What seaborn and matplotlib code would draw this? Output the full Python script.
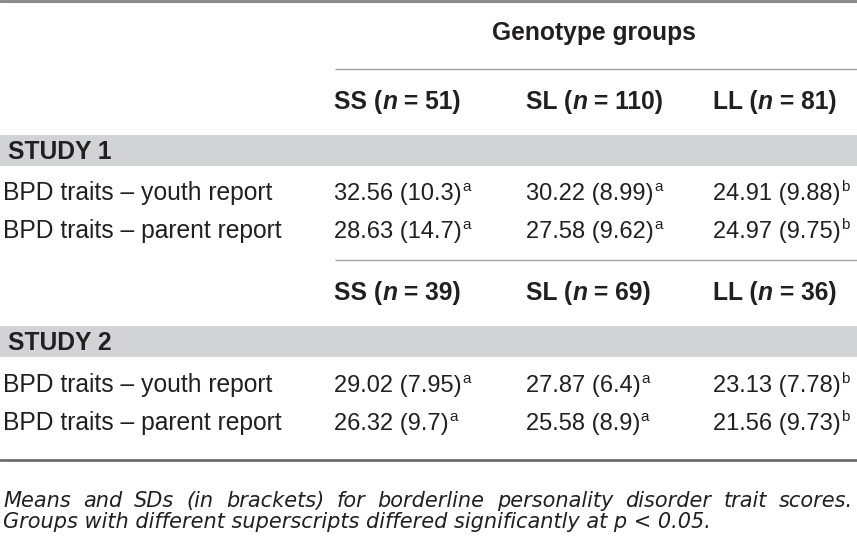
import matplotlib
matplotlib.use("Agg")
import matplotlib.pyplot as plt
import seaborn as sns

# table content
title = "Genotype groups"
groups = ["SS", "SL", "LL"]
n_study1 = [51, 110, 81]
n_study2 = [39, 69, 36]
studies = ["STUDY 1", "STUDY 2"]
row_labels = ["BPD traits – youth report", "BPD traits – parent report"]
study1_means = [[32.56, 30.22, 24.91], [28.63, 27.58, 24.97]]
study1_sds = [[10.3, 8.99, 9.88], [14.7, 9.62, 9.75]]
study2_means = [[29.02, 27.87, 23.13], [26.32, 25.58, 21.56]]
study2_sds = [[7.95, 6.4, 7.78], [9.7, 8.9, 9.73]]
sup_letters = ["a", "a", "b"]
caption = ["Means and SDs (in brackets) for borderline personality disorder trait scores.",
           "Groups with different superscripts differed significantly at p < 0.05."]

sns.set_theme(style="white")
plt.rcParams['font.family'] = ['Liberation Sans', 'DejaVu Sans']

ink = "#231f20"
band = "#d1d3d4"
fs = 17.7
vfs = 17

fig = plt.figure(figsize=(8.57, 5.39), dpi=100)
ax = fig.add_axes([0, 0, 1, 1])
ax.set_xlim(0, 857)
ax.set_ylim(539, 0)
ax.axis("off")

col_x = [334, 526, 713]

# rules
ax.axhline(1, color="#8c8c8c", lw=2.2)
ax.axhline(460, color="#6e6e6e", lw=2.0)
ax.hlines([69, 260], 335, 857, color="#a0a0a0", lw=1.0)

ax.text(594, 40, title, fontsize=fs, fontweight="bold", color=ink, ha="center", va="baseline")


def header_row(base, ns):
    for x, g, n in zip(col_x, groups, ns):
        t = ax.text(x, base, g + " (", fontsize=fs, fontweight="bold", color=ink, va="baseline")
        t = ax.annotate("n", xy=(1, base), xycoords=(t, "data"), fontsize=fs, fontweight="bold",
                        fontstyle="italic", color=ink, va="baseline", ha="left")
        ax.annotate(" = %d)" % n, xy=(1, base), xycoords=(t, "data"), fontsize=fs,
                    fontweight="bold", color=ink, va="baseline", ha="left")


def study_block(y_band, name, name_base, bases, means, sds):
    ax.axhspan(y_band[0], y_band[1], color=band, lw=0)
    ax.text(8, name_base, name, fontsize=fs, fontweight="bold", color=ink, va="baseline")
    for b, lab, m_row, s_row in zip(bases, row_labels, means, sds):
        ax.text(3, b, lab, fontsize=fs, color=ink, va="baseline")
        for x, m, s, sup in zip(col_x, m_row, s_row, sup_letters):
            t = ax.text(x, b, "%.2f (%s)" % (m, s), fontsize=vfs, color=ink, va="baseline")
            ax.annotate(sup, xy=(1, b - 9), xycoords=(t, "data"), xytext=(0.3, 0),
                        textcoords="offset points", fontsize=11, color=ink,
                        va="baseline", ha="left")


header_row(109, n_study1)
study_block((135, 166), studies[0], 159, [200, 238], study1_means, study1_sds)
header_row(300, n_study2)
study_block((326, 357), studies[1], 350, [392, 430], study2_means, study2_sds)

# caption: first line justified, second left
fig.canvas.draw()
r = fig.canvas.get_renderer()
cfs = 15
cfont = "DejaVu Sans"
words = caption[0].split(" ")
arts = [ax.text(0, 507, w, fontsize=cfs, fontstyle="italic", family=cfont, color=ink,
                va="baseline") for w in words]
widths = [a.get_window_extent(r).width for a in arts]
left, right = 3, 853
gap = (right - left - sum(widths)) / (len(words) - 1)
x = left
for a, w in zip(arts, widths):
    a.set_x(x)
    x += w + gap
ax.text(3, 528, caption[1], fontsize=cfs, fontstyle="italic", family=cfont, color=ink,
        va="baseline")

fig.savefig("out.png", dpi=100)
